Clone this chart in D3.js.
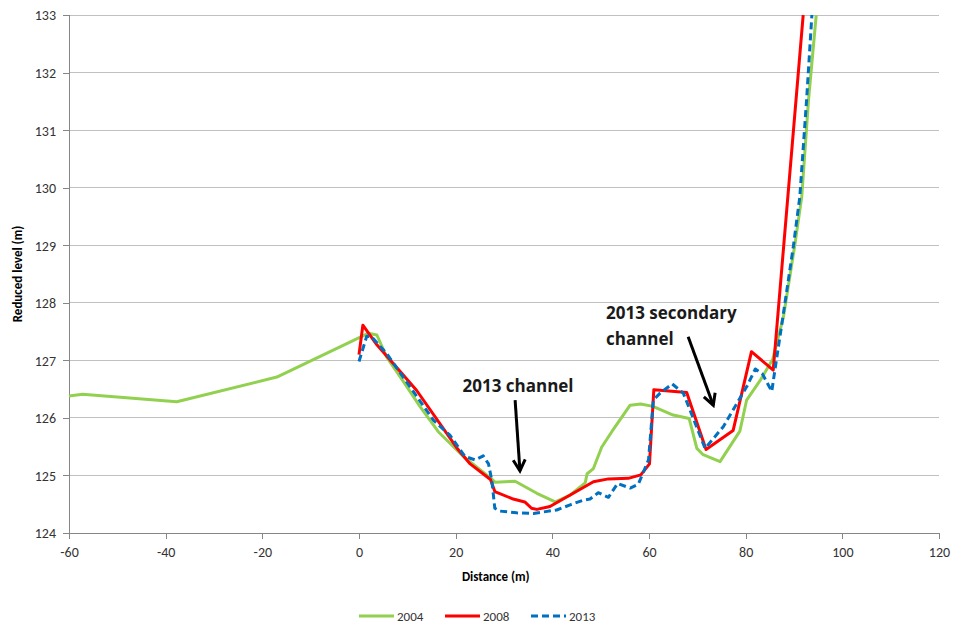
<!DOCTYPE html>
<html>
<head>
<meta charset="utf-8">
<script src="https://cdn.jsdelivr.net/npm/d3@7"></script>
<style>
  html, body { margin: 0; padding: 0; background: #ffffff; }
  svg { display: block; font-family: Carlito, Calibri, Lato, sans-serif; }
</style>
</head>
<body>
<svg id="chart" width="954" height="628"></svg>
<script>
// ---------- data ----------
const dist2004 = [-60, -57.2, -37.7, -17.0, 1.9, 3.7, 5.7, 9.2, 12.6, 16.4, 21.6, 27.3, 28.2, 32.3, 36.8, 40.6, 43.7, 46.8, 47.2, 48.5, 50.2, 52.3, 56.1, 58.3, 60.8, 65.0, 68.3, 69.9, 71.2, 74.7, 78.8, 80.2, 83.0, 85.6, 87.8, 90.2, 91.6, 93.0, 94.6];
const level2004 = [126.38, 126.41, 126.28, 126.71, 127.47, 127.44, 127.06, 126.63, 126.20, 125.76, 125.33, 124.95, 124.88, 124.90, 124.69, 124.54, 124.66, 124.87, 125.03, 125.12, 125.49, 125.76, 126.22, 126.24, 126.20, 126.05, 125.99, 125.47, 125.36, 125.24, 125.77, 126.31, 126.65, 127.02, 127.75, 129.02, 129.84, 131.52, 133.0];

const dist2008 = [0, 0.8, 3.7, 11.9, 20.5, 23.0, 27.2, 28.1, 31.9, 34.3, 35.7, 36.8, 39.5, 43.7, 48.5, 51.6, 55.7, 58.3, 60.1, 61.0, 67.8, 71.8, 77.4, 81.2, 85.7, 91.9];
const level2008 = [127.10, 127.61, 127.27, 126.48, 125.45, 125.20, 124.93, 124.72, 124.59, 124.54, 124.43, 124.41, 124.46, 124.66, 124.89, 124.94, 124.95, 125.01, 125.20, 126.49, 126.44, 125.45, 125.78, 127.15, 126.83, 133.0];

const dist2013 = [0, 1.6, 2.6, 5.7, 15.4, 18.8, 21.9, 24.0, 25.7, 26.8, 27.5, 28.1, 29.2, 32.6, 36.1, 40.9, 43.7, 46.4, 47.8, 49.5, 51.6, 53.5, 56.1, 57.8, 59.9, 60.9, 62.3, 64.8, 67.1, 71.6, 75.4, 80.2, 82.0, 83.5, 85.4, 86.1, 87.5, 89.9, 91.2, 92.6, 93.7];
const level2013 = [126.98, 127.42, 127.41, 127.12, 125.96, 125.70, 125.33, 125.27, 125.34, 125.20, 124.90, 124.43, 124.38, 124.35, 124.34, 124.40, 124.49, 124.57, 124.59, 124.70, 124.62, 124.86, 124.78, 124.85, 125.27, 126.31, 126.43, 126.59, 126.43, 125.47, 125.85, 126.54, 126.85, 126.76, 126.46, 126.86, 127.64, 129.0, 129.84, 131.52, 133.0];

const seriesNames = ["2004", "2008", "2013"];
const xTicks = [-60, -40, -20, 0, 20, 40, 60, 80, 100, 120];
const yTicks = [124, 125, 126, 127, 128, 129, 130, 131, 132, 133];

const annoText = ["2013 channel", "2013 secondary", "channel"];
const annoTextX = [32.9, 51.1, 51.1];
const annoTextY = [126.45, 127.72, 127.27];
const arrowFromX = [32.3, 68.1];
const arrowFromY = [126.31, 127.41];
const arrowToX = [33.3, 73.3];
const arrowToY = [125.08, 126.22];

// ---------- layout ----------
const W = 954, H = 628;
const margin = {left: 69, right: 15, top: 15, bottom: 95};
const colors = {"2004": "#92D050", "2008": "#FF0000", "2013": "#0070C0"};

const svg = d3.select("#chart");
const x = d3.scaleLinear().domain([-60, 120]).range([margin.left, W - margin.right]);
const y = d3.scaleLinear().domain([124, 133]).range([H - margin.bottom, margin.top]);

// gridlines
svg.append("g").selectAll("line").data(yTicks.filter(d => d > 124)).join("line")
  .attr("x1", x(-60)).attr("x2", x(120))
  .attr("y1", d => y(d)).attr("y2", d => y(d))
  .attr("stroke", "#C0C0C0").attr("stroke-width", 1).attr("shape-rendering", "crispEdges");

// axes
const fmt = d => String(d);
const yAxis = svg.append("g").attr("transform", `translate(${x(-60)},0)`)
  .call(d3.axisLeft(y).tickValues(yTicks).tickFormat(fmt).tickSize(6).tickPadding(7));
const xAxis = svg.append("g").attr("transform", `translate(0,${y(124)})`)
  .call(d3.axisBottom(x).tickValues(xTicks).tickFormat(fmt).tickSize(6).tickPadding(6));
[yAxis, xAxis].forEach(a => {
  a.select(".domain").attr("stroke", "#868686").attr("shape-rendering", "crispEdges");
  a.selectAll(".tick line").attr("stroke", "#868686").attr("shape-rendering", "crispEdges");
  a.selectAll(".tick text").attr("fill", "#333").style("font-size", "14px")
    .style("font-family", "Carlito, Calibri, Lato, sans-serif");
});
yAxis.selectAll(".tick text").attr("dy", "0.35em");
xAxis.selectAll(".tick text").attr("dy", "0.85em");

// axis titles
svg.append("text").attr("x", x(28.3)).attr("y", 581).attr("text-anchor", "middle")
  .style("font-size", "13px").style("font-weight", "bold").attr("fill", "#000").text("Distance (m)");
svg.append("text").attr("transform", `translate(22,${y(128.5)}) rotate(-90)`).attr("text-anchor", "middle")
  .style("font-size", "13px").style("font-weight", "bold").attr("fill", "#000").text("Reduced level (m)");

// clip
svg.append("clipPath").attr("id", "clip").append("rect")
  .attr("x", x(-60)).attr("y", y(133)).attr("width", x(120) - x(-60)).attr("height", y(124) - y(133));

const line = d3.line().x(d => x(d[0])).y(d => y(d[1]));
const series = [
  {name: "2004", data: d3.zip(dist2004, level2004), dash: null},
  {name: "2008", data: d3.zip(dist2008, level2008), dash: null},
  {name: "2013", data: d3.zip(dist2013, level2013), dash: "7,4"}
];
const lines = svg.append("g").attr("clip-path", "url(#clip)");
series.forEach(s => {
  lines.append("path").attr("d", line(s.data)).attr("fill", "none")
    .attr("stroke", colors[s.name]).attr("stroke-width", 3)
    .attr("stroke-linejoin", "round")
    .attr("stroke-dasharray", s.dash);
});

// annotations
const defs = svg.append("defs");
defs.append("marker").attr("id", "arrow").attr("markerUnits", "userSpaceOnUse")
  .attr("viewBox", "0 0 16 16").attr("refX", 13).attr("refY", 8)
  .attr("markerWidth", 16).attr("markerHeight", 16).attr("orient", "auto")
  .append("path").attr("d", "M2,2 L13,8 L2,14").attr("fill", "none")
  .attr("stroke", "#000").attr("stroke-width", 3).attr("stroke-linejoin", "miter");

arrowFromX.forEach((fx, i) => {
  svg.append("line").attr("x1", x(fx)).attr("y1", y(arrowFromY[i]))
    .attr("x2", x(arrowToX[i])).attr("y2", y(arrowToY[i]))
    .attr("stroke", "#000").attr("stroke-width", 3).attr("marker-end", "url(#arrow)");
});
annoText.forEach((t, i) => {
  svg.append("text").attr("x", x(annoTextX[i])).attr("y", y(annoTextY[i]))
    .attr("text-anchor", i === 0 ? "middle" : "start")
    .style("font-family", "'Open Sans', sans-serif")
    .style("font-size", "17px").style("font-weight", "bold").attr("fill", "#1a1a1a").text(t);
});

// legend
const legX = [359, 445, 531];
const lg = svg.append("g");
seriesNames.forEach((n, i) => {
  const g = lg.append("g").attr("transform", `translate(${legX[i]},616)`);
  g.append("line").attr("x1", 0).attr("x2", 35).attr("y1", 0).attr("y2", 0)
    .attr("stroke", colors[n]).attr("stroke-width", 3)
    .attr("stroke-dasharray", n === "2013" ? "7,4" : null);
  g.append("text").attr("x", 38).attr("y", 0).attr("dy", "0.35em")
    .style("font-size", "13px").attr("fill", "#333").text(n);
});
</script>
</body>
</html>
